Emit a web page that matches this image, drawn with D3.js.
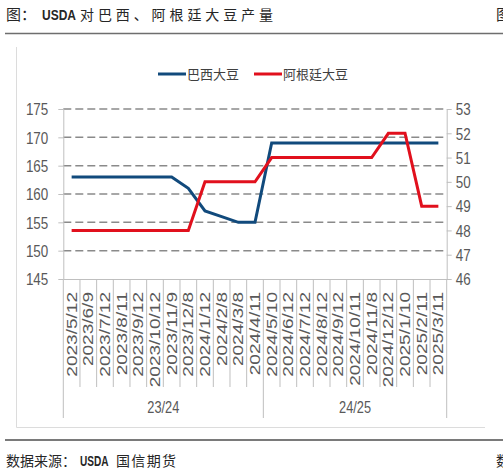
<!DOCTYPE html>
<html>
<head>
<meta charset="utf-8">
<script src="https://cdn.jsdelivr.net/npm/d3@7"></script>
<style>
  body { margin: 0; background: #fff; }
  svg { display: block; }
</style>
</head>
<body>
<script>
const dates = ['2023/5/12', '2023/6/9', '2023/7/12', '2023/8/11', '2023/9/12', '2023/10/12',
               '2023/11/9', '2023/12/8', '2024/1/12', '2024/2/8', '2024/3/8', '2024/4/11',
               '2024/5/10', '2024/6/12', '2024/7/12', '2024/8/12', '2024/9/12', '2024/10/11',
               '2024/11/8', '2024/12/12', '2025/1/10', '2025/2/11', '2025/3/11'];

// 巴西大豆 (left axis)
const brazil = [163, 163, 163, 163, 163, 163, 163, 161, 157, 156, 155, 155,
                169, 169, 169, 169, 169, 169, 169, 169, 169, 169, 169];

// 阿根廷大豆 (right axis)
const argentina = [48, 48, 48, 48, 48, 48, 48, 48, 50, 50, 50, 50,
                   51, 51, 51, 51, 51, 51, 51, 52, 52, 49, 49];

const leftTicks = [145, 150, 155, 160, 165, 170, 175];
const rightTicks = [46, 47, 48, 49, 50, 51, 52, 53];

const seasons = ['23/24', '24/25'];
const seasonFirst = ['2023/5/12', '2024/5/10'];

const seriesNames = ['巴西大豆', '阿根廷大豆'];
const seriesColors = ['#114a7c', '#e1101d'];

const width = 503;
const height = 473;
const plotLeft = 63.3;
const plotRight = 446.7;
const plotTop = 109;
const plotBottom = 279;
const labelColor = '#595959';
const axisColor = '#bfbfbf';

const svg = d3.select('body')
    .append('svg')
    .attr('width', width)
    .attr('height', height)
    .style('font-family', 'Liberation Sans, Arial, sans-serif');

const x = d3.scaleBand()
    .domain(dates)
    .range([plotLeft, plotRight]);

const yLeft = d3.scaleLinear()
    .domain([145, 175])
    .range([plotBottom, plotTop]);

const yRight = d3.scaleLinear()
    .domain([46, 53])
    .range([plotBottom, plotTop]);

const bw = x.bandwidth();

// title and separators
const title = svg.append('g').style('font-family', 'Noto Sans CJK SC').attr('fill', '#262626');
title.append('text').attr('x', 6).attr('y', 20).style('font-size', '15px').text('图：');
title.append('text').attr('transform', 'translate(42,20) scale(0.8,1)')
    .style('font-family', 'Liberation Sans').style('font-weight', 'bold').style('font-size', '15px')
    .text('USDA');
title.append('text').attr('x', 80).attr('y', 20).style('font-size', '14px')
    .attr('textLength', 193).text('对巴西、阿根廷大豆产量');
title.append('text').attr('x', 496).attr('y', 20).style('font-size', '15px').text('图');

svg.append('line')
    .attr('x1', 5).attr('x2', width).attr('y1', 33.5).attr('y2', 33.5)
    .attr('stroke', '#6e6e6e').attr('stroke-width', 1.5);

svg.append('line')
    .attr('x1', 5).attr('x2', width).attr('y1', 440).attr('y2', 440)
    .attr('stroke', '#7a7a7a').attr('stroke-width', 2);

// chart area border (left and bottom)
svg.append('path')
    .attr('d', 'M16.5,47V427.5H485')
    .attr('fill', 'none')
    .attr('stroke', '#dcdcdc')
    .attr('stroke-width', 1);

// footer
const foot = svg.append('g').style('font-family', 'Noto Sans CJK SC').attr('fill', '#262626');
foot.append('text').attr('x', 6).attr('y', 466).style('font-size', '14px')
    .attr('textLength', 70).text('数据来源：');
foot.append('text').attr('transform', 'translate(80,466) scale(0.72,1)')
    .style('font-family', 'Liberation Sans').style('font-weight', 'bold').style('font-size', '14px')
    .text('USDA');
foot.append('text').attr('x', 116).attr('y', 466).style('font-size', '14px')
    .attr('textLength', 60).text('国信期货');
foot.append('text').attr('x', 496).attr('y', 466).style('font-size', '14px').text('数');

// dashed grid
svg.append('g')
    .selectAll('line')
    .data(leftTicks.filter((d) => d !== 145))
    .enter()
    .append('line')
    .attr('x1', plotLeft).attr('x2', plotRight)
    .attr('y1', (d) => yLeft(d)).attr('y2', (d) => yLeft(d))
    .attr('stroke', '#8a8a8a')
    .attr('stroke-width', 1.5)
    .attr('stroke-dasharray', '8,4');

// left axis
const yAxisLeft = d3.axisLeft(yLeft).tickValues(leftTicks).tickSize(5).tickSizeOuter(0);
const gl = svg.append('g').attr('transform', 'translate(' + plotLeft + ',0)').call(yAxisLeft);
gl.select('.domain').attr('stroke', axisColor);
gl.selectAll('.tick line').attr('stroke', axisColor);
gl.selectAll('.tick text')
    .attr('x', 0).attr('dy', '0.36em')
    .attr('transform', 'translate(-15,0) scale(0.84,1)')
    .attr('fill', labelColor)
    .style('font-size', '16px')
    .style('font-family', 'Liberation Sans');

// right axis
const yAxisRight = d3.axisRight(yRight).tickValues(rightTicks).tickFormat(d3.format('d'))
    .tickSize(5).tickSizeOuter(0);
const gr = svg.append('g').attr('transform', 'translate(' + plotRight + ',0)').call(yAxisRight);
gr.select('.domain').attr('stroke', axisColor);
gr.selectAll('.tick line').attr('stroke', axisColor);
gr.selectAll('.tick text')
    .attr('x', 0).attr('dy', '0.36em')
    .attr('transform', 'translate(9,0) scale(0.84,1)')
    .attr('fill', labelColor)
    .style('font-size', '16px')
    .style('font-family', 'Liberation Sans');

// bottom axis
const xAxis = d3.axisBottom(x).tickSize(0).tickSizeOuter(0);
const gx = svg.append('g').attr('transform', 'translate(0,' + plotBottom + ')').call(xAxis);
gx.select('.domain').attr('stroke', axisColor);
gx.selectAll('.tick text')
    .attr('y', 0).attr('dy', '0.36em')
    .attr('text-anchor', 'end')
    .attr('transform', 'translate(0,13) rotate(-90) scale(1.36,1)')
    .attr('fill', labelColor)
    .style('font-size', '14px')
    .style('font-family', 'Liberation Sans');

// category separators
const edges = dates.map((d) => x(d)).concat([plotRight]);
const seasonEdges = seasonFirst.map((d) => x(d)).concat([plotRight]);

svg.append('g')
    .selectAll('line')
    .data(edges)
    .enter()
    .append('line')
    .attr('x1', (d) => d).attr('x2', (d) => d)
    .attr('y1', plotBottom)
    .attr('y2', (d) => seasonEdges.some((s) => Math.abs(s - d) < 0.01) ? 418 : 387)
    .attr('stroke', axisColor)
    .attr('stroke-width', 1);

svg.append('g')
    .selectAll('text')
    .data(seasons)
    .enter()
    .append('text')
    .attr('transform', (d, i) => 'translate(' + (seasonEdges[i] + seasonEdges[i + 1]) / 2 + ',413) scale(0.8,1)')
    .attr('text-anchor', 'middle')
    .attr('fill', labelColor)
    .style('font-size', '16px')
    .text((d) => d);

// lines
const lineLeft = d3.line()
    .x((d, i) => x(dates[i]) + bw / 2)
    .y((d) => yLeft(d));

const lineRight = d3.line()
    .x((d, i) => x(dates[i]) + bw / 2)
    .y((d) => yRight(d));

svg.append('path')
    .datum(brazil)
    .attr('d', lineLeft)
    .attr('fill', 'none')
    .attr('stroke', seriesColors[0])
    .attr('stroke-width', 3);

svg.append('path')
    .datum(argentina)
    .attr('d', lineRight)
    .attr('fill', 'none')
    .attr('stroke', seriesColors[1])
    .attr('stroke-width', 3);

// legend
const legendX = [158, 254];
const legend = svg.append('g')
    .selectAll('g')
    .data(seriesNames)
    .enter()
    .append('g')
    .attr('transform', (d, i) => 'translate(' + legendX[i] + ',74)');

legend.append('line')
    .attr('x1', 0).attr('x2', 28)
    .attr('stroke', (d, i) => seriesColors[i])
    .attr('stroke-width', 3);

legend.append('text')
    .attr('x', 29)
    .attr('dy', '0.36em')
    .attr('fill', '#404040')
    .style('font-family', 'Noto Sans CJK SC')
    .style('font-size', '13px')
    .attr('textLength', (d) => d.length * 13)
    .text((d) => d);
</script>
</body>
</html>
